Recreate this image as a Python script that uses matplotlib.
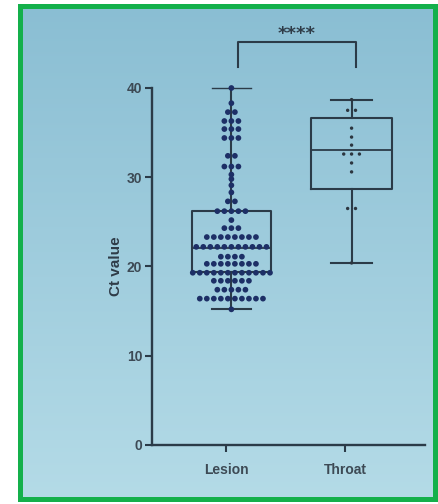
import numpy as np
import matplotlib
matplotlib.use("Agg")
import matplotlib.pyplot as plt
from matplotlib.patches import Rectangle

# ---- data ----
categories = ["Lesion", "Throat"]
lesion_ct = [40.0, 38.3, 37.3, 37.3, 36.3, 36.3, 36.3, 35.4, 35.4, 35.4,
             34.4, 34.4, 34.4, 32.4, 32.4, 31.2, 31.2, 31.2, 30.3, 29.8,
             29.1, 28.3, 27.3, 27.3,
             26.2, 26.2, 26.2, 26.2, 26.2, 25.2, 24.3, 24.3, 24.3,
             23.3, 23.3, 23.3, 23.3, 23.3, 23.3, 23.3, 23.3,
             22.2, 22.2, 22.2, 22.2, 22.2, 22.2, 22.2, 22.2, 22.2, 22.2, 22.2,
             21.1, 21.1, 21.1, 21.1,
             20.3, 20.3, 20.3, 20.3, 20.3, 20.3, 20.3, 20.3,
             19.3, 19.3, 19.3, 19.3, 19.3, 19.3, 19.3, 19.3, 19.3, 19.3, 19.3, 19.3,
             18.4, 18.4, 18.4, 18.4, 18.4, 18.4,
             17.4, 17.4, 17.4, 17.4, 17.4,
             16.4, 16.4, 16.4, 16.4, 16.4, 16.4, 16.4, 16.4, 16.4, 16.4,
             15.2]
throat_ct = [38.7, 37.5, 37.5, 35.5, 34.5, 33.6, 32.6, 32.6, 32.6, 31.6,
             30.6, 26.5, 26.5, 20.4]
# box statistics (whisker min/max, quartiles, median) as drawn
box_whislo = [15.2, 20.4]
box_q1 = [19.4, 28.7]
box_med = [22.1, 33.0]
box_q3 = [26.2, 36.6]
box_whishi = [40.0, 38.7]
sig_label = "****"
ylabel = "Ct value"
yticks = [0, 10, 20, 30, 40]

# ---- figure ----
W, H = 439, 504
fig = plt.figure(figsize=(W / 100, H / 100), dpi=100)
fig.patch.set_facecolor("white")

# photo background (gradient) inside green frame
bg = fig.add_axes([19 / W, 1 - 500 / H, (437 - 19) / W, (500 - 4) / H])
bg.set_axis_off()
top = np.array([0x8a, 0xbe, 0xd3]) / 255
bot = np.array([0xb4, 0xdb, 0xe7]) / 255
t = np.linspace(0, 1, 200)[:, None, None]
grad = top * (1 - t) + bot * t
grad = np.repeat(grad, 2, axis=1)
bg.imshow(grad, aspect="auto", extent=[0, 1, 0, 1])
bg.set_xlim(0, 1)
bg.set_ylim(0, 1)

fig.patches.append(Rectangle((20.5 / W, 1 - 498.5 / H), (435 - 20.5) / W, (498.5 - 6) / H,
                             transform=fig.transFigure, fill=False,
                             edgecolor="#14b04b", linewidth=3.6, zorder=10))

ax = fig.add_axes([152 / W, 1 - 445 / H, (425 - 152) / W, (445 - 88) / H])
ax.set_facecolor("none")

line_c = "#2b3b48"
pos = [1.045, 2.055]
stats = []
for i, c in enumerate(categories):
    stats.append(dict(label=c, whislo=box_whislo[i], q1=box_q1[i], med=box_med[i],
                      q3=box_q3[i], whishi=box_whishi[i], fliers=[]))
lp = dict(color=line_c, linewidth=1.5)
art = ax.bxp(stats, positions=pos, widths=[0.66, 0.68], capwidths=[0.33, 0.34],
             showfliers=False, boxprops=lp, whiskerprops=lp, capprops=lp,
             medianprops=dict(color=line_c, linewidth=1.3), manage_ticks=False, zorder=2)
for k in art:
    for a in art[k]:
        a.set_clip_on(False)
art["caps"][1].set_linewidth(1.0)


def swarm_x(vals, center, step):
    vals = np.asarray(vals)
    xs = np.zeros(len(vals))
    for v in np.unique(vals):
        idx = np.where(vals == v)[0]
        n = len(idx)
        xs[idx] = center + (np.arange(n) - (n - 1) / 2) * step
    return xs


lx = swarm_x(lesion_ct, pos[0], 0.059)
ax.scatter(lx, lesion_ct, s=17, color="#1d2f66", edgecolors="none", zorder=3, clip_on=False)
tx = swarm_x(throat_ct, pos[1], 0.066)
ax.scatter(tx, throat_ct, s=6, color="#2c3640", edgecolors="none", zorder=3)

ax.set_xlim(0.378, 2.672)
ax.set_ylim(0, 40)
ax.set_yticks(yticks)
ax.set_xticks([1, 2])
ax.set_xticklabels(categories)
for s in ["top", "right"]:
    ax.spines[s].set_visible(False)
for s in ["left", "bottom"]:
    ax.spines[s].set_color(line_c)
    ax.spines[s].set_linewidth(1.7)
ax.tick_params(axis="both", colors=line_c, width=1.5, length=5)
ax.tick_params(axis="y", pad=2)
ax.tick_params(axis="x", pad=8)
for lab in ax.get_xticklabels() + ax.get_yticklabels():
    lab.set_fontfamily("Liberation Sans")
    lab.set_fontweight("bold")
    lab.set_fontsize(10)
    lab.set_color("#3d4a55")
ax.set_ylabel(ylabel, fontfamily="Liberation Sans", fontweight="bold",
              fontsize=11, color="#2f3c48", labelpad=3)

# significance bracket
bx = [1.10, 1.10, 2.09, 2.09]
by = [42.4, 45.2, 45.2, 42.4]
ax.plot(bx, by, color=line_c, linewidth=1.5, clip_on=False)
ax.text(1.595, 46.0, sig_label, ha="center", va="center", fontsize=13,
        fontweight="bold", color="#2f3c48", fontfamily="DejaVu Sans")

fig.savefig("out.png", dpi=100)
